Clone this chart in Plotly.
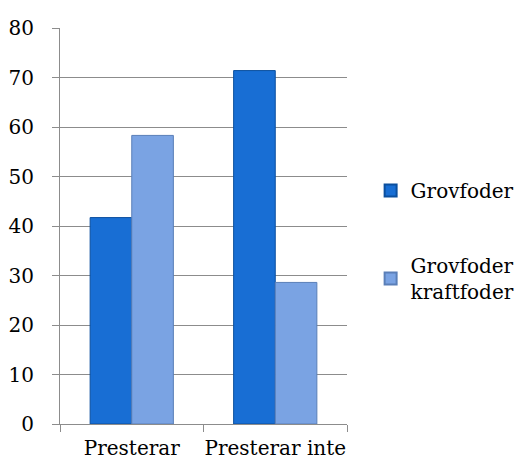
import plotly.graph_objects as go

categories = ["Presterar", "Presterar inte"]
grovfoder = [41.7, 71.4]
grovfoder_kraftfoder = [58.3, 28.6]
series_names = ["Grovfoder", "Grovfoder<br>kraftfoder"]
y_ticks = [0, 10, 20, 30, 40, 50, 60, 70, 80]

font = dict(family="DejaVu Serif", size=20, color="#000000")
grid = "#8c8c8c"

fig = go.Figure()
fig.add_trace(go.Bar(
    x=categories, y=grovfoder, name=series_names[0], legendgroup="a",
    marker=dict(color="#186ed4", line=dict(color="#0b4f9e", width=1)),
))
fig.add_trace(go.Bar(
    x=categories, y=grovfoder_kraftfoder, name=series_names[1], legendgroup="b",
    marker=dict(color="#7aa3e3", line=dict(color="#5a7fb8", width=1)),
))

fig.update_layout(
    width=522, height=465,
    margin=dict(l=60, r=175, t=28, b=41, autoexpand=False),
    paper_bgcolor="white", plot_bgcolor="white",
    font=font,
    barmode="group", bargap=0.42, bargroupgap=0.0,
    showlegend=True,
    legend=dict(xref="container", yref="container", x=0.71, y=0.632,
                xanchor="left", yanchor="top",
                tracegroupgap=46, font=font, itemsizing="constant",
                bgcolor="rgba(0,0,0,0)"),
)
fig.update_yaxes(
    range=[0, 80], tickvals=y_ticks, showgrid=True, gridcolor=grid, gridwidth=1,
    showline=True, linecolor=grid, linewidth=1, ticks="outside", ticklen=7,
    tickcolor=grid, zeroline=False, tickfont=font, ticklabelstandoff=14,
    automargin=False,
)
fig.update_xaxes(
    showline=True, linecolor=grid, linewidth=1, ticks="outside", ticklen=7,
    tickcolor=grid, tickson="boundaries", tickfont=font, showgrid=False,
    ticklabelstandoff=6, tickangle=0, automargin=False,
)

fig.write_html("out.html")
